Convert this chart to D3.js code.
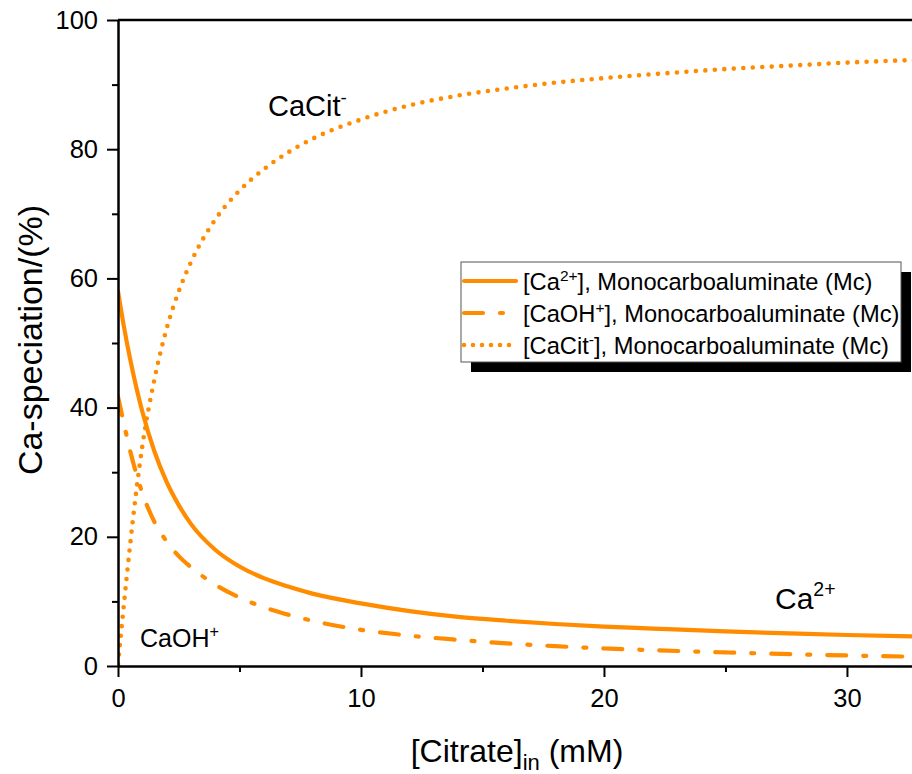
<!DOCTYPE html>
<html>
<head>
<meta charset="utf-8">
<script src="https://cdn.jsdelivr.net/npm/d3@7"></script>
<style>
  html, body { margin: 0; padding: 0; background: #fff; overflow: hidden; }
  svg { display: block; font-family: Arial, "Liberation Sans", sans-serif; }
</style>
</head>
<body>
<svg id="chart" width="912" height="774"></svg>
<script>
// Citrate concentration (mM) at which the Ca speciation was evaluated
const concentration = [0, 0.25, 0.5, 0.75, 1, 1.5, 2, 2.5, 3, 4, 5, 6, 7, 8, 10, 12, 14, 16, 18, 20, 22, 25, 28, 30, 33.5];
// Share of dissolved calcium (%) per species, Monocarboaluminate (Mc)
const ca2 = [58.0, 52.4, 47.5, 43.2, 39.4, 33.2, 28.5, 24.9, 22.0, 18.0, 15.4, 13.6, 12.3, 11.2, 9.7, 8.5, 7.6, 7.0, 6.5, 6.1, 5.8, 5.35, 5.0, 4.8, 4.5];
const caoh = [41.7, 37.4, 33.3, 29.8, 26.8, 22.3, 19.3, 17.0, 15.3, 12.6, 10.6, 9.1, 7.95, 7.0, 5.6, 4.7, 4.05, 3.5, 3.07, 2.72, 2.45, 2.1, 1.8, 1.63, 1.4];
const cacit = [0.3, 9.8, 18.8, 27.0, 34.0, 44.4, 52.2, 58.0, 62.5, 69.1, 73.6, 76.9, 79.5, 81.6, 84.6, 86.8, 88.3, 89.4, 90.3, 91.0, 91.6, 92.4, 93.0, 93.4, 93.9];

const xTicks = [0, 10, 20, 30];
const xMinor = [5, 15, 25];
const yTicks = [0, 20, 40, 60, 80, 100];
const yMinor = [10, 30, 50, 70, 90];

const orange = "#ff8c00";
const svg = d3.select("#chart");

const x = d3.scaleLinear().domain([0, 33.5]).range([118, 932]);
const y = d3.scaleLinear().domain([0, 100]).range([666, 20]);

// clip curves to plot area
svg.append("defs").append("clipPath").attr("id", "plotClip")
  .append("rect").attr("x", 118).attr("y", 20).attr("width", 820).attr("height", 646);

const series = [
  { values: ca2, dash: null, width: 4.2 },
  { values: caoh, dash: "19,17,3,17", width: 4.2 },
  { values: cacit, dash: "0,9.5", width: 4.6 }
];

const line = d3.line()
  .x(d => x(d[0]))
  .y(d => y(d[1]))
  .curve(d3.curveMonotoneX);

const curves = svg.append("g").attr("clip-path", "url(#plotClip)");
series.forEach(s => {
  curves.append("path")
    .datum(concentration.map((c, i) => [c, s.values[i]]))
    .attr("d", line)
    .attr("fill", "none")
    .attr("stroke", orange)
    .attr("stroke-width", s.width)
    .attr("stroke-linecap", "round")
    .attr("stroke-linejoin", "round")
    .attr("stroke-dasharray", s.dash);
});

// axes
const axisStyle = g => {
  g.selectAll("path.domain").attr("stroke", "#000").attr("stroke-width", 2.5);
  g.selectAll(".tick line").attr("stroke", "#000").attr("stroke-width", 2);
  g.selectAll(".tick text").attr("fill", "#000").attr("font-size", 25.5)
    .attr("font-family", "Arial, 'Liberation Sans', sans-serif");
};

svg.append("g").attr("transform", "translate(0,666)")
  .call(d3.axisBottom(x).tickValues(xMinor).tickSize(6).tickFormat(""))
  .call(g => g.select("path.domain").remove())
  .call(axisStyle);
svg.append("g").attr("transform", "translate(0,666)")
  .call(d3.axisBottom(x).tickValues(xTicks).tickSize(11).tickSizeOuter(0).tickPadding(12).tickFormat(d3.format("d")))
  .call(axisStyle);

svg.append("g").attr("transform", "translate(118,0)")
  .call(d3.axisLeft(y).tickValues(yMinor).tickSize(6).tickFormat(""))
  .call(g => g.select("path.domain").remove())
  .call(axisStyle);
svg.append("g").attr("transform", "translate(118,0)")
  .call(d3.axisLeft(y).tickValues(yTicks).tickSize(11).tickSizeOuter(0).tickPadding(9).tickFormat(d3.format("d")))
  .call(axisStyle);

// top frame line
svg.append("line")
  .attr("x1", x(0)).attr("x2", 932).attr("y1", y(100)).attr("y2", y(100))
  .attr("stroke", "#000").attr("stroke-width", 2.5);

// axis titles
svg.append("text")
  .attr("transform", "translate(42,340) rotate(-90)")
  .attr("text-anchor", "middle").attr("font-size", 34).attr("fill", "#000")
  .text("Ca-speciation/(%)");

const xTitle = svg.append("text")
  .attr("x", 517).attr("y", 762).attr("text-anchor", "middle")
  .attr("font-size", 32).attr("fill", "#000");
xTitle.append("tspan").text("[Citrate]");
xTitle.append("tspan").attr("font-size", 22).attr("dy", 8).text("in");
xTitle.append("tspan").attr("dy", -8).text(" (mM)");

// species labels
function species(xp, yp, size, base, sup) {
  const t = svg.append("text").attr("x", xp).attr("y", yp)
    .attr("font-size", size).attr("fill", "#000");
  t.append("tspan").text(base);
  t.append("tspan").attr("font-size", size * 0.65).attr("dy", -size * 0.42).text(sup);
}
species(268, 116, 29, "CaCit", "-");
species(775, 609, 30, "Ca", "2+");
species(140, 647, 25, "CaOH", "+");

// legend with drop shadow
const lg = svg.append("g");
lg.append("rect").attr("x", 471).attr("y", 272).attr("width", 440).attr("height", 100).attr("fill", "#000");
lg.append("rect").attr("x", 461).attr("y", 262).attr("width", 440).attr("height", 100)
  .attr("fill", "#fff").attr("stroke", "#555").attr("stroke-width", 1);

const legendItems = [
  { base: "[Ca", sup: "2+", dash: null, width: 4.2 },
  { base: "[CaOH", sup: "+", dash: "19,17,3,17", width: 4.2 },
  { base: "[CaCit", sup: "-", dash: "0,9", width: 4.6 }
];
legendItems.forEach((it, i) => {
  const cy = 281 + i * 32;
  lg.append("line").attr("x1", 464).attr("x2", 516).attr("y1", cy).attr("y2", cy)
    .attr("stroke", orange).attr("stroke-width", it.width).attr("stroke-linecap", "round")
    .attr("stroke-dasharray", it.dash);
  const t = lg.append("text").attr("x", 523).attr("y", cy + 9)
    .attr("font-size", 23.7).attr("fill", "#000");
  t.append("tspan").text(it.base);
  t.append("tspan").attr("font-size", 15.5).attr("dy", -9).text(it.sup);
  t.append("tspan").attr("dy", 9).text("], Monocarboaluminate (Mc)");
});
</script>
</body>
</html>
